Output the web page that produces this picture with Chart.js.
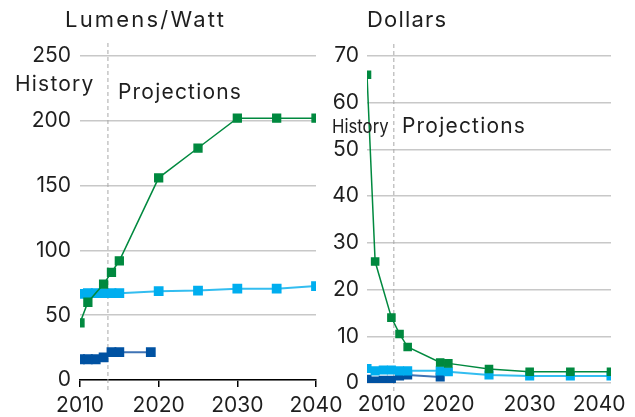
<!DOCTYPE html>
<html>
<head>
<meta charset="utf-8">
<script src="https://cdn.jsdelivr.net/npm/chart.js@4"></script>
<style>
  body { margin: 0; background: #fff; }
  #wrap { position: relative; width: 635px; height: 417px; font-family: Inter, sans-serif; color: #1e1e1e; overflow: hidden; }
  canvas { position: absolute; top: 0; }
  .lbl { position: absolute; white-space: nowrap; line-height: 1; }
  .ttl { font-size: 22px; letter-spacing: 2.2px; top: 8px; }
  .proj { font-size: 21px; letter-spacing: 1.2px; }
</style>
</head>
<body>
<div id="wrap">
  <canvas id="lumens" style="left:0"></canvas>
  <canvas id="dollars" style="left:320px"></canvas>
  <div class="lbl ttl" style="left:65px">Lumens/Watt</div>
  <div class="lbl" style="left:15px; top:73px; font-size:21px; letter-spacing:1.2px">History</div>
  <div class="lbl proj" style="left:118px; top:81px">Projections</div>
  <div class="lbl ttl" style="left:367px; letter-spacing:1.2px">Dollars</div>
  <div class="lbl" style="left:332px; top:117px; font-size:19px; transform:scaleX(0.88); transform-origin:left">History</div>
  <div class="lbl proj" style="left:402px; top:115px">Projections</div>
</div>
<script>
// Lumens per watt
const lumGreenYears = [2010, 2011, 2013, 2014, 2015, 2020, 2025, 2030, 2035, 2040]
const lumGreen = [44, 60, 74, 83, 92, 156, 179, 202, 202, 202]
const lumLightYears = [2010, 2011, 2012, 2013, 2014, 2015, 2020, 2025, 2030, 2035, 2040]
const lumLight = [66.5, 67, 67, 67, 67, 67, 68.5, 69, 70.5, 70.5, 72.5]
const lumDarkYears = [2010, 2011, 2012, 2013, 2014, 2015, 2019]
const lumDark = [16, 16, 16, 17.5, 21.5, 21.5, 21.5]

// Dollars
const usdGreenYears = [2010, 2011, 2013, 2014, 2015, 2019, 2020, 2025, 2030, 2035, 2040]
const usdGreen = [66, 26, 14, 10.5, 7.7, 4.4, 4.2, 3.0, 2.4, 2.4, 2.4]
const usdLightYears = [2010, 2011, 2012, 2013, 2014, 2015, 2019, 2020, 2025, 2030, 2035, 2040]
const usdLight = [3.1, 2.6, 2.8, 2.8, 2.6, 2.6, 2.6, 2.4, 1.7, 1.5, 1.5, 1.5]
const usdDarkYears = [2010, 2011, 2012, 2013, 2014, 2015, 2019]
const usdDark = [0.8, 0.4, 0.6, 0.6, 1.5, 1.7, 1.3]

const xTicks = [2010, 2020, 2030, 2040]
const xTickLabels = ['2010', '2020', '2030', '2040']
const lumYTicks = [0, 50, 100, 150, 200, 250]
const usdYTicks = [0, 10, 20, 30, 40, 50, 60, 70]

const GREEN = '#00893f', LIGHT = '#00aeef', DARK = '#0052a2'
const tickFont = { family: 'Inter', size: 21 }

function pts(xs, ys) { return xs.map((x, i) => ({ x: x, y: ys[i] })) }

function series(xs, ys, color, lineColor, width, r) {
  return {
    data: pts(xs, ys),
    borderColor: lineColor,
    backgroundColor: color,
    pointBackgroundColor: color,
    pointBorderColor: color,
    borderWidth: width,
    pointStyle: 'rect',
    pointRadius: r,
    pointHoverRadius: r,
    tension: 0
  }
}

// dashed history / projections divider
const divider = {
  id: 'divider',
  beforeDatasetsDraw(chart, args, opts) {
    const x = chart.scales.x.getPixelForValue(opts.year)
    const ctx = chart.ctx
    ctx.save()
    ctx.strokeStyle = '#a8a8a8'
    ctx.lineWidth = 1
    ctx.setLineDash([4, 3])
    ctx.beginPath()
    ctx.moveTo(x, opts.top)
    ctx.lineTo(x, opts.bottom)
    ctx.stroke()
    ctx.restore()
  }
}

function makeChart(el, w, datasets, yMax, yTicks, pad, yWidth, xHeight, xOpts, yOpts, dividerOpts) {
  el.width = w; el.height = 417
  el.style.width = w + 'px'; el.style.height = '417px'
  return new Chart(el, {
    type: 'line',
    data: { datasets: datasets },
    plugins: [divider],
    options: {
      responsive: false,
      animation: false,
      layout: { autoPadding: false, padding: pad },
      plugins: { legend: { display: false }, tooltip: { enabled: false }, divider: dividerOpts },
      scales: {
        x: Object.assign({
          type: 'linear', min: 2010, max: 2040,
          afterBuildTicks: s => { s.ticks = xTicks.map(v => ({ value: v })) },
          afterFit: s => { s.height = xHeight; s.paddingLeft = 0; s.paddingRight = 0 }
        }, xOpts),
        y: Object.assign({
          min: 0, max: yMax,
          afterBuildTicks: s => { s.ticks = yTicks.map(v => ({ value: v })) },
          afterFit: s => { s.width = yWidth; s.paddingTop = 0; s.paddingBottom = 0 },
          ticks: { font: tickFont, color: '#1e1e1e', padding: 9 },
          grid: { color: '#c8c8c8', lineWidth: 1.5, drawTicks: false },
          border: { display: false }
        }, yOpts)
      }
    }
  })
}

makeChart(document.getElementById('lumens'), 350, [
  series(lumGreenYears, lumGreen, GREEN, GREEN, 1.5, 5.5),
  series(lumLightYears, lumLight, LIGHT, '#33bdf0', 2, 5.5),
  series(lumDarkYears, lumDark, DARK, '#3f73b5', 2, 5.5)
], 250, lumYTicks, { left: 0, right: 34, top: 56, bottom: 0 }, 80, 37, {
  ticks: { font: tickFont, color: '#1e1e1e', padding: 6, maxRotation: 0, autoSkip: false,
    callback: (v, i) => xTickLabels[i] },
  grid: { drawOnChartArea: false, drawTicks: true, tickLength: 7, color: '#000', lineWidth: 1.5 },
  border: { display: true, color: '#000', width: 1.5 }
}, {}, { year: 2013.55, top: 43, bottom: 392 })

// first and last labels sit inward of their ticks in the reference
const usdLabel = (v, i) => i === 0 ? '     ' + xTickLabels[i] : i === 3 ? xTickLabels[i] + '    ' : xTickLabels[i]

makeChart(document.getElementById('dollars'), 315, [
  series(usdGreenYears, usdGreen, GREEN, GREEN, 1.5, 5),
  series(usdLightYears, usdLight, LIGHT, '#33bdf0', 2, 5),
  series(usdDarkYears, usdDark, DARK, '#3f73b5', 2, 5)
], 70, usdYTicks, { left: 0, right: 24, top: 56, bottom: 0 }, 47, 34, {
  ticks: { font: tickFont, color: '#1e1e1e', padding: 9, maxRotation: 0, autoSkip: false, callback: usdLabel },
  grid: { display: false, drawTicks: false, tickLength: 0 },
  border: { display: false }
}, { ticks: { font: tickFont, color: '#1e1e1e', padding: 8 } }, { year: 2013.3, top: 44, bottom: 393 })
</script>
</body>
</html>
